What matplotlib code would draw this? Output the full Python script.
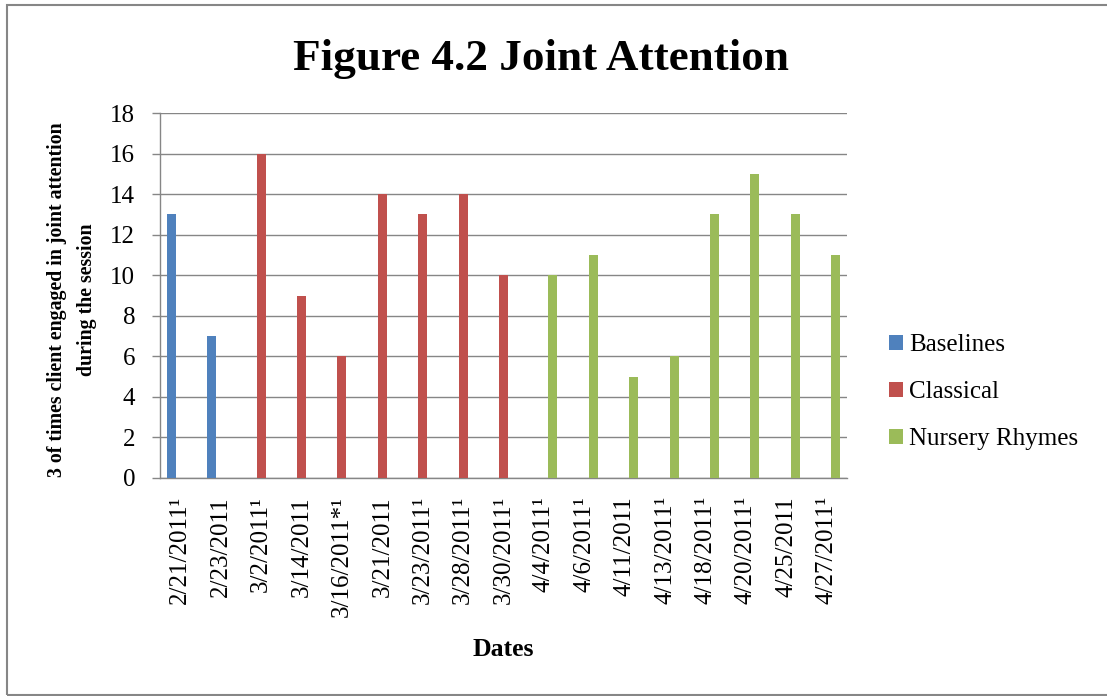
import numpy as np
import matplotlib
matplotlib.use("Agg")
import matplotlib.pyplot as plt
from matplotlib.patches import Rectangle

plt.rcParams['font.family'] = ['Liberation Serif', 'DejaVu Serif']

# data
dates = ["2/21/2011\u00b9", "2/23/2011", "3/2/2011\u00b9", "3/14/2011", "3/16/2011*\u00b9",
         "3/21/2011", "3/23/2011\u00b9", "3/28/2011\u00b9", "3/30/2011\u00b9", "4/4/2011\u00b9",
         "4/6/2011\u00b9", "4/11/2011", "4/13/2011\u00b9", "4/18/2011\u00b9", "4/20/2011\u00b9",
         "4/25/2011", "4/27/2011\u00b9"]
baselines = [13, 7] + [None] * 15
classical = [None, None, 16, 9, 6, 14, 13, 14, 10] + [None] * 8
nursery = [None] * 9 + [10, 11, 5, 6, 13, 15, 13, 11]

series = [("Baselines", baselines, "#4F81BD"),
          ("Classical", classical, "#C0504D"),
          ("Nursery Rhymes", nursery, "#9BBB59")]

W, H = 1107, 696
fig = plt.figure(figsize=(W / 100, H / 100), dpi=100)
ax = fig.add_axes([160 / W, 1 - 478 / H, 687 / W, 365 / H])

x = np.arange(len(dates))
bw = 1 / 4.5
for i, (name, vals, col) in enumerate(series):
    v = np.array([np.nan if a is None else a for a in vals], dtype=float)
    ax.bar(x + (i - 1) * bw, v, width=bw, color=col, label=name, zorder=3)

grey = "#868686"
ax.set_xlim(-0.5, len(dates) - 0.5)
ax.set_ylim(0, 18)
ax.set_yticks(range(0, 19, 2))
ax.set_xticks(x)
ax.set_xticklabels(dates, rotation=90, ha='center', va='top')
ax.tick_params(axis='x', length=0, pad=13, labelsize=18)
ax.tick_params(axis='y', length=6, width=1, color=grey, direction='out', pad=12, labelsize=18)
ax.grid(axis='y', color=grey, linewidth=1, zorder=0)
for s in ['top', 'right']:
    ax.spines[s].set_visible(False)
for s in ['left', 'bottom']:
    ax.spines[s].set_color(grey)
    ax.spines[s].set_linewidth(1)

fig.text(541 / W, 1 - 70 / H, "Figure 4.2 Joint Attention", fontsize=32.5,
         fontweight='bold', ha='center', va='baseline')
fig.text(72 / W, 1 - 300 / H, "3 of times client engaged in joint attention\nduring the session",
         fontsize=14.3, fontweight='bold', rotation=90, ha='center', va='center',
         multialignment='center', linespacing=1.65)
fig.text(503 / W, 1 - 650 / H, "Dates", fontsize=18.5, fontweight='bold', ha='center', va='center')

fig.legend(loc='center left', bbox_to_anchor=(889 / W, 1 - 392 / H), frameon=False,
           fontsize=18, handlelength=0.55, handleheight=0.55, handletextpad=0.25,
           labelspacing=1.0, borderpad=0, borderaxespad=0)

fig.patches.append(Rectangle((7 / W, 1 - 695 / H), 1.05, (695 - 5) / H,
                             transform=fig.transFigure, fill=False,
                             edgecolor=grey, linewidth=1.5))

fig.savefig("out.png", dpi=100)
